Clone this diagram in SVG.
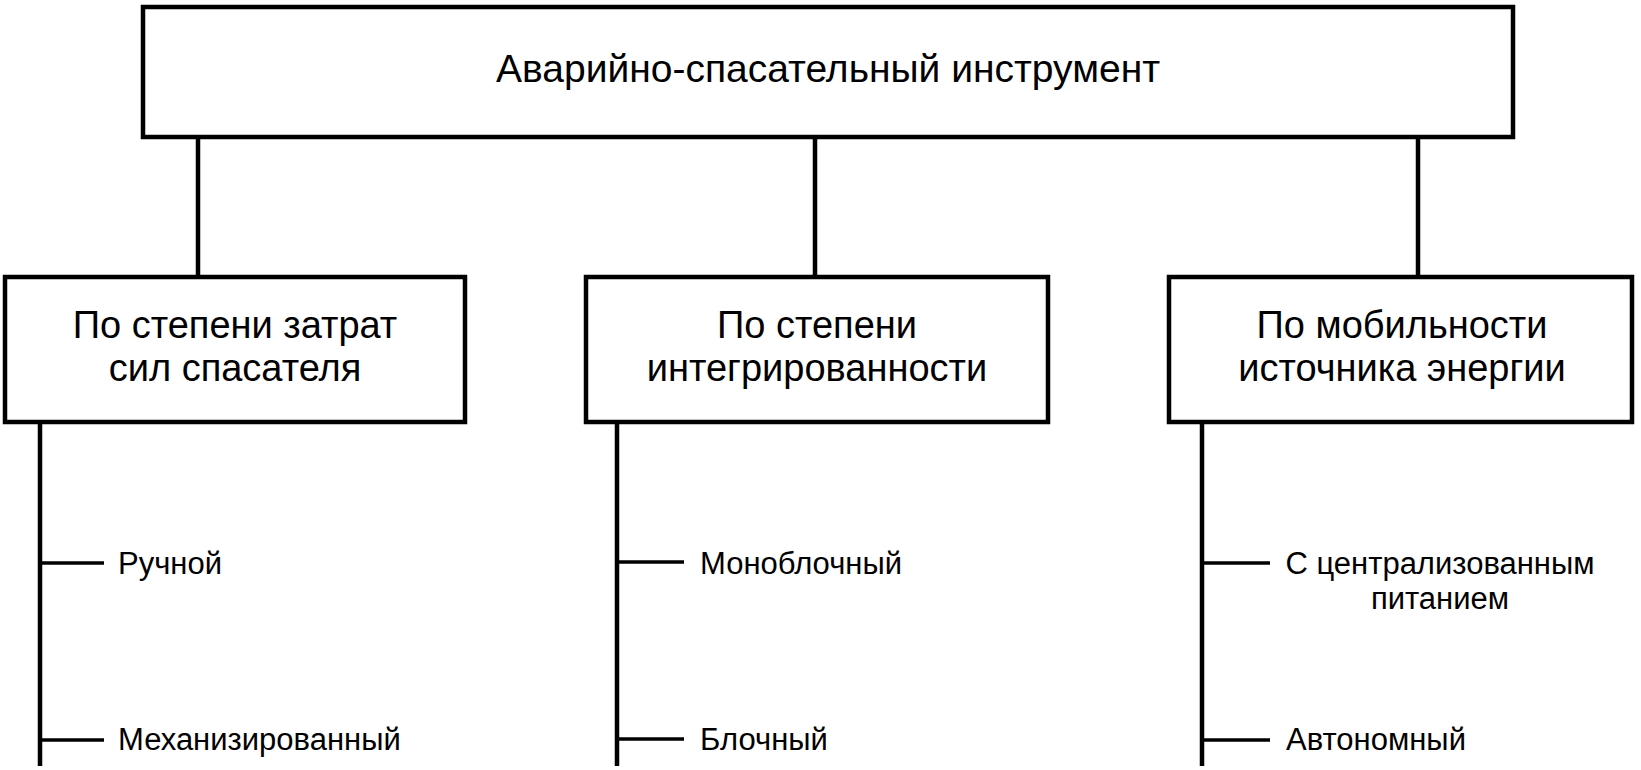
<svg xmlns="http://www.w3.org/2000/svg" width="1641" height="770" viewBox="0 0 1641 770">
<style>
.box{fill:#fff;stroke:#000;stroke-width:4.5}
.ln{stroke:#000;stroke-width:4.5;fill:none}
.tk{stroke:#000;stroke-width:3.5;fill:none}
.t{font-family:"Liberation Sans",Arial,sans-serif;fill:#000}
.big{font-size:39px}
.mid{font-size:38px}
.sm{font-size:31px}
</style>
<rect width="1641" height="770" fill="#fff"/>
<g id="connectors">
<line class="ln" x1="198" y1="137" x2="198" y2="277"/>
<line class="ln" x1="815" y1="137" x2="815" y2="277"/>
<line class="ln" x1="1418" y1="137" x2="1418" y2="277"/>
<line class="ln" x1="40" y1="422" x2="40" y2="766"/>
<line class="tk" x1="40" y1="563" x2="104" y2="563"/>
<line class="tk" x1="40" y1="740" x2="104" y2="740"/>
<line class="ln" x1="617" y1="422" x2="617" y2="766"/>
<line class="tk" x1="617" y1="562" x2="684" y2="562"/>
<line class="tk" x1="617" y1="739" x2="684" y2="739"/>
<line class="ln" x1="1202" y1="422" x2="1202" y2="766"/>
<line class="tk" x1="1202" y1="563" x2="1270" y2="563"/>
<line class="tk" x1="1202" y1="740" x2="1270" y2="740"/>
</g>
<g id="root">
<rect class="box" x="143" y="7" width="1370" height="130"/>
<text class="t big" x="828" y="82" text-anchor="middle">Аварийно-спасательный инструмент</text>
</g>
<g id="cat1">
<rect class="box" x="5" y="277" width="460" height="145"/>
<text class="t mid" x="235" y="338" text-anchor="middle">По степени затрат</text>
<text class="t mid" x="235" y="381" text-anchor="middle">сил спасателя</text>
</g>
<g id="cat2">
<rect class="box" x="586" y="277" width="462" height="145"/>
<text class="t mid" x="817" y="338" text-anchor="middle">По степени</text>
<text class="t mid" x="817" y="381" text-anchor="middle">интегрированности</text>
</g>
<g id="cat3">
<rect class="box" x="1169" y="277" width="463" height="145"/>
<text class="t mid" x="1402" y="338" text-anchor="middle">По мобильности</text>
<text class="t mid" x="1402" y="381" text-anchor="middle">источника энергии</text>
</g>
<g id="leaf-manual"><text class="t sm" x="118" y="574">Ручной</text></g>
<g id="leaf-mech"><text class="t sm" x="118" y="750">Механизированный</text></g>
<g id="leaf-mono"><text class="t sm" x="700" y="574">Моноблочный</text></g>
<g id="leaf-block"><text class="t sm" x="700" y="750">Блочный</text></g>
<g id="leaf-central">
<text class="t sm" x="1440" y="574" text-anchor="middle">С централизованным</text>
<text class="t sm" x="1440" y="609" text-anchor="middle">питанием</text>
</g>
<g id="leaf-auto"><text class="t sm" x="1286" y="750">Автономный</text></g>
</svg>
